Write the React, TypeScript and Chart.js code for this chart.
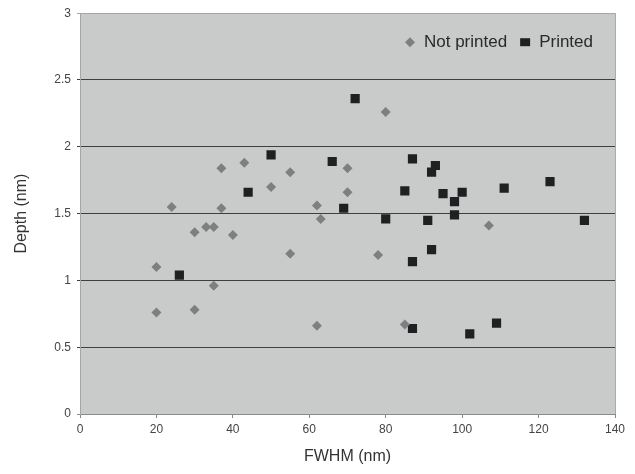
import React, { useEffect, useRef } from "react";
import { Chart, registerables } from "chart.js";

Chart.register(...registerables);

const notPrintedX = [20, 20, 24, 30, 30, 33, 35, 35, 37, 37, 40, 43, 50, 55, 55, 62, 63, 62, 70, 70, 80, 78, 85, 107];
const notPrintedY = [1.1, 0.76, 1.55, 1.36, 0.78, 1.4, 1.4, 0.96, 1.84, 1.54, 1.34, 1.88, 1.7, 1.81, 1.2, 1.56, 1.46, 0.66, 1.84, 1.66, 2.26, 1.19, 0.67, 1.41];

const printedX = [26, 44, 50, 72, 66, 69, 80, 87, 85, 93, 92, 91, 95, 100, 98, 98, 111, 123, 132, 92, 87, 87, 102, 109];
const printedY = [1.04, 1.66, 1.94, 2.36, 1.89, 1.54, 1.46, 1.91, 1.67, 1.86, 1.81, 1.45, 1.65, 1.66, 1.59, 1.49, 1.69, 1.74, 1.45, 1.23, 1.14, 0.64, 0.6, 0.68];

const xTicks = [0, 20, 40, 60, 80, 100, 120, 140];
const yTicks = [0, 0.5, 1, 1.5, 2, 2.5, 3];

const FONT = "'Liberation Sans', Arial, sans-serif";

const bgPlugin = {
  id: "plotBg",
  beforeDraw(chart: any) {
    const { ctx, chartArea } = chart;
    ctx.save();
    ctx.fillStyle = "#c9cbcb";
    ctx.fillRect(chartArea.left, chartArea.top, chartArea.right - chartArea.left, chartArea.bottom - chartArea.top);
    ctx.restore();
  },
  afterDraw(chart: any) {
    const { ctx, chartArea } = chart;
    ctx.save();
    ctx.strokeStyle = "#a9abab";
    ctx.lineWidth = 1;
    ctx.beginPath();
    ctx.moveTo(chartArea.right + 0.5, chartArea.top);
    ctx.lineTo(chartArea.right + 0.5, chartArea.bottom);
    ctx.stroke();
    // legend, top right inside the plot
    ctx.font = `17px ${FONT}`;
    ctx.textBaseline = "middle";
    ctx.textAlign = "left";
    const y = chartArea.top + 29;
    const items = chart.data.datasets.map((d: any) => ({
      label: d.label,
      style: d.pointStyle,
      color: d.backgroundColor,
    }));
    let x = chartArea.right - 22;
    const positions: any[] = [];
    for (let i = items.length - 1; i >= 0; i--) {
      const w = ctx.measureText(items[i].label).width;
      const textX = x - w;
      const markX = textX - 14;
      positions.unshift({ textX, markX });
      x = markX - 18;
    }
    items.forEach((it: any, i: number) => {
      ctx.fillStyle = it.color;
      ctx.beginPath();
      const mx = positions[i].markX;
      if (it.style === "rectRot") {
        const r = 5;
        ctx.moveTo(mx, y - r);
        ctx.lineTo(mx + r, y);
        ctx.lineTo(mx, y + r);
        ctx.lineTo(mx - r, y);
        ctx.closePath();
      } else {
        ctx.rect(mx - 5, y - 4, 10, 8);
      }
      ctx.fill();
      ctx.fillStyle = "#2a2a2a";
      ctx.fillText(it.label, positions[i].textX, y);
    });
    ctx.restore();
  },
};

export default function App() {
  const ref = useRef<HTMLCanvasElement>(null);
  useEffect(() => {
    if (!ref.current) return;
    const chart = new Chart(ref.current, {
      type: "scatter",
      data: {
        datasets: [
          {
            label: "Not printed",
            data: notPrintedX.map((x, i) => ({ x, y: notPrintedY[i] })),
            pointStyle: "rectRot",
            pointRadius: 5,
            backgroundColor: "#7d7f80",
            borderColor: "#7d7f80",
            borderWidth: 0,
          },
          {
            label: "Printed",
            data: printedX.map((x, i) => ({ x, y: printedY[i] })),
            pointStyle: "rect",
            pointRadius: 6.5,
            backgroundColor: "#1e2021",
            borderColor: "#1e2021",
            borderWidth: 0,
          },
        ],
      },
      options: {
        animation: false,
        responsive: false,
        layout: { padding: { top: 12, right: 20, left: 0, bottom: 0 } },
        plugins: {
          tooltip: { enabled: false },
          legend: { display: false },
        },
        scales: {
          x: {
            type: "linear",
            min: 0,
            max: 140,
            afterBuildTicks(scale: any) {
              scale.ticks = xTicks.map((v) => ({ value: v }));
            },
            afterFit(scale: any) {
              scale.height = 60;
            },
            ticks: { color: "#444", font: { family: FONT, size: 12 }, padding: 4, callback: (v: any) => String(v) },
            grid: { drawOnChartArea: false, drawTicks: true, tickLength: 4, color: "#888" },
            border: { display: true, color: "#8a8a8a" },
            title: {
              display: true,
              text: "FWHM (nm)",
              color: "#333",
              font: { family: FONT, size: 16 },
              padding: { top: 4, bottom: 8 },
            },
          },
          y: {
            type: "linear",
            min: 0,
            max: 3,
            afterBuildTicks(scale: any) {
              scale.ticks = yTicks.map((v) => ({ value: v }));
            },
            afterFit(scale: any) {
              scale.width = 80;
            },
            ticks: { color: "#444", font: { family: FONT, size: 12 }, padding: 6, callback: (v: any) => String(v) },
            grid: {
              drawTicks: true,
              tickLength: 3,
              lineWidth: 1,
              color: (c: any) => (c.tick && c.tick.value === 3 ? "#a5a7a7" : c.tick && c.tick.value === 0 ? "#8a8a8a" : "#3e4040"),
            },
            border: { display: true, color: "#a5a7a7" },
            title: {
              display: true,
              text: "Depth (nm)",
              color: "#333",
              font: { family: FONT, size: 16 },
              padding: { top: 12, bottom: 4 },
            },
          },
        },
      },
      plugins: [bgPlugin],
    } as any);
    return () => chart.destroy();
  }, []);
  return (
    <div style={{ position: "fixed", left: 0, top: 0, width: 635, height: 474, background: "#fff" }}>
      <canvas ref={ref} width={635} height={474} style={{ width: 635, height: 474 }} />
    </div>
  );
}
